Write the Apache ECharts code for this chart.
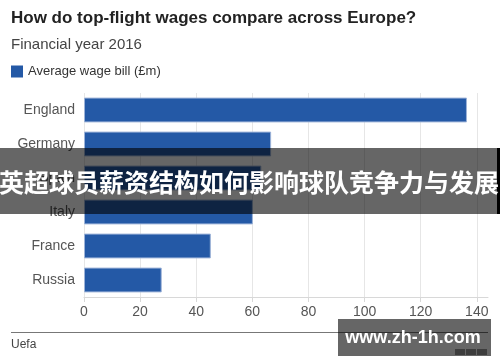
<!DOCTYPE html>
<html><head><meta charset="utf-8">
<script src="https://cdn.jsdelivr.net/npm/echarts@6/dist/echarts.min.js"></script>
<style>html,body{margin:0;padding:0;background:#fff}#c{width:500px;height:362px}</style>
</head><body><div id="c"></div>
<script>
const categories = ['England','Germany','Spain','Italy','France','Russia'];
const wages = [136.5, 66.7, 63.2, 60.2, 45.2, 27.7];
const xTicks = [0, 20, 40, 60, 80, 100, 120, 140];
const titleText = 'How do top-flight wages compare across Europe?';
const subtitleText = 'Financial year 2016';
const seriesName = 'Average wage bill (£m)';
const sourceText = 'Uefa';
const bannerText = '英超球员薪资结构如何影响球队竞争力与发展';
const watermarkText = 'www.zh-1h.com';

const chart = echarts.init(document.getElementById('c'), null, {renderer:'canvas'});
const font = '"Liberation Sans", Arial, sans-serif';
chart.setOption({
  animation:false,
  textStyle:{fontFamily:font},
  title:{
    text:titleText, subtext:subtitleText, left:6, top:5, itemGap:10,
    textStyle:{fontSize:17, fontWeight:'bold', color:'#222', fontFamily:font},
    subtextStyle:{fontSize:15, color:'#444', fontFamily:font}
  },
  legend:{
    left:11, top:65, padding:0, itemWidth:12, itemHeight:12, itemGap:5, icon:'rect',
    data:[seriesName],
    itemStyle:{borderWidth:0},
    textStyle:{fontSize:13, color:'#333', fontFamily:font}
  },
  grid:{left:84, right:12, top:93, bottom:65, containLabel:false},
  xAxis:{
    type:'value', min:0, max:144, interval:20,
    axisLine:{show:true, lineStyle:{color:'#d8d8d8'}},
    axisTick:{show:true, length:5, lineStyle:{color:'#d8d8d8'}},
    axisLabel:{color:'#555', fontSize:14, margin:8, showMaxLabel:false, fontFamily:font,
      formatter:v => xTicks.includes(v) ? String(v) : ''},
    splitLine:{show:true, showMaxLine:false, lineStyle:{color:'#e6e6e6'}}
  },
  yAxis:{
    type:'category', data:categories, inverse:true,
    axisLine:{show:false}, axisTick:{show:false},
    axisLabel:{color:'#555', fontSize:14, margin:9, fontFamily:font}
  },
  series:[{
    name:seriesName, type:'bar', data:wages, barCategoryGap:'27%',
    itemStyle:{color:'#2459a6', borderColor:'#9db3d8', borderWidth:1}
  }],
  graphic:[
    {type:'line', shape:{x1:11, y1:332.5, x2:488, y2:332.5}, style:{stroke:'#777', lineWidth:1}},
    {type:'text', left:11, top:339, style:{text:sourceText, font:'12px '+font, fill:'#444'}},
    {type:'group', left:455, top:349, children:[
      {type:'rect', shape:{x:0,y:0,width:10,height:6}, style:{fill:'#999'}},
      {type:'rect', shape:{x:11,y:0,width:10,height:6}, style:{fill:'#999'}},
      {type:'rect', shape:{x:22,y:0,width:10,height:6}, style:{fill:'#999'}}
    ]},
    {type:'rect', shape:{x:0, y:148, width:500, height:66}, style:{fill:'rgba(0,0,0,0.6)'}, z:100},
    {type:'rect', shape:{x:497, y:148, width:3, height:66}, style:{fill:'#000'}, z:100},
    {type:'text', x:249, y:182, z:101, style:{text:bannerText, font:'bold 25px "Noto Sans CJK SC", sans-serif', fill:'#fff', align:'center', verticalAlign:'middle'}},
    {type:'rect', shape:{x:338, y:319, width:153, height:37}, style:{fill:'rgba(0,0,0,0.6)'}, z:100},
    {type:'text', x:413, y:338, z:101, style:{text:watermarkText, font:'bold 18px "Liberation Sans", Arial, sans-serif', fill:'#fff', align:'center', verticalAlign:'middle'}}
  ]
});
</script></body></html>
